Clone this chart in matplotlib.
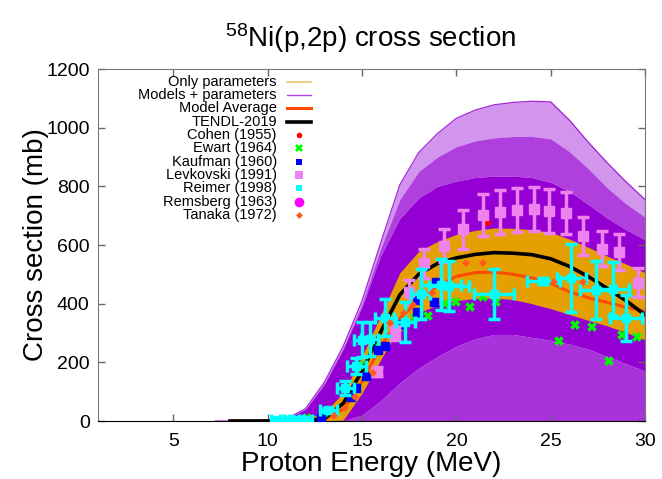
import matplotlib
matplotlib.use('Agg')
import matplotlib.pyplot as plt

plt.rcParams['font.family'] = ['Liberation Sans', 'DejaVu Sans']
plt.rcParams['mathtext.fontset'] = 'custom'
plt.rcParams['mathtext.rm'] = 'Liberation Sans'

# ---------------- data ----------------
# Models + parameters: envelope of the many TALYS runs
env_E = [7.2, 8, 9, 10, 11, 12, 13, 14, 15, 16, 17, 18, 19, 20, 21, 22, 23, 24, 25, 26, 27, 28, 29, 30]
env_upper = [0, 0, 1, 3, 8, 42, 132, 255, 410, 610, 805, 915, 980, 1032, 1060, 1078, 1086, 1090, 1088, 1025, 950, 880, 815, 755]
env_mid = [0, 0, 1, 3, 8, 41, 130, 250, 400, 590, 755, 850, 900, 935, 955, 965, 970, 970, 962, 918, 860, 795, 740, 695]
env_dense = [0, 0, 1, 3, 8, 40, 125, 245, 390, 565, 690, 760, 800, 818, 830, 835, 835, 830, 814, 782, 738, 692, 652, 618]
env_low = [0, 0, 0, 0, 0, 0, 0, 0, 20, 70, 130, 180, 220, 255, 280, 295, 295, 285, 275, 262, 245, 220, 195, 170]

# Only parameters: band
band_E = [10, 11, 12, 13, 14, 15, 16, 17, 18, 19, 20, 21, 22, 23, 24, 25, 26, 27, 28, 29, 30]
band_hi = [0, 2, 8, 30, 95, 220, 362, 505, 578, 612, 636, 650, 658, 657, 652, 643, 620, 592, 562, 535, 506]
band_lo = [0, 0, 0, 0, 3, 95, 210, 320, 370, 395, 410, 418, 419, 414, 400, 383, 363, 343, 324, 302, 277]

# Model average
avg_E = [8, 10, 12, 13, 14, 15, 16, 17, 18, 19, 20, 21, 22, 23, 24, 25, 26, 27, 28, 29, 30]
avg_xs = [0, 0, 1, 5, 40, 135, 255, 350, 410, 460, 493, 506, 508, 500, 488, 470, 440, 420, 404, 388, 373]

# TENDL-2019
tendl_E = [8, 10, 11, 12, 13, 14, 15, 16, 17, 18, 19, 20, 21, 22, 23, 24, 25, 26, 27, 28, 29, 30]
tendl_xs = [0, 0, 0.5, 2, 8, 60, 170, 305, 430, 500, 537, 556, 568, 574, 572, 567, 553, 527, 492, 452, 410, 362]

# Experimental data
cohen_E = [21.6]
cohen_xs = [678]

ewart_E = [11.1, 12.1, 13.0, 14.9, 15.95, 16.9, 17.8, 18.5, 19.4, 20.0, 20.7, 21.4, 22.1, 25.45, 26.3, 27.2, 28.1, 28.8, 29.6]
ewart_xs = [2, 10, 27, 190, 253, 318, 352, 357, 400, 404, 388, 422, 404, 273, 327, 320, 204, 294, 286]

kaufman_E = [12.8, 14.4, 14.7, 15.2, 15.85, 16.2, 17.0, 17.9, 17.9, 18.8, 18.9]
kaufman_xs = [10, 82, 113, 155, 243, 256, 330, 414, 371, 405, 475]

levk_E = [15.8, 16.75, 17.5, 18.3, 19.35, 20.35, 21.4, 22.3, 23.2, 24.1, 24.9, 25.8, 26.7, 27.7, 28.6, 29.65]
levk_xs = [168, 300, 440, 537, 598, 653, 701, 711, 721, 723, 715, 709, 630, 588, 576, 472]
levk_err = [15, 25, 40, 50, 55, 68, 72, 75, 75, 75, 75, 70, 65, 60, 60, 50]

reimer_E = [10.5, 11.0, 11.5, 12.0, 13.2, 14.1, 14.7, 15.0, 15.4, 16.2, 17.3, 18.1, 19.2, 19.6, 22.0, 24.6, 26.1, 27.4, 28.3, 29.0]
reimer_xs = [3, 4, 4, 5, 38, 113, 188, 277, 280, 352, 336, 434, 465, 460, 434, 476, 488, 447, 450, 352]
reimer_yerr = [2, 2, 2, 2, 8, 23, 28, 60, 58, 63, 68, 85, 88, 85, 85, 10, 115, 100, 93, 78]
reimer_xerr = [0.35, 0.35, 0.35, 0.35, 0.45, 0.45, 0.5, 0.45, 0.45, 0.5, 0.5, 0.5, 1.05, 1.05, 1.07, 0.88, 0.75, 0.85, 0.85, 0.85]

remsberg_E = []
remsberg_xs = []

tanaka_E = [13.5, 14.1, 14.6, 15.6, 16.5, 17.2, 17.7, 18.7, 20.5, 21.4, 25.2, 26.7]
tanaka_xs = [18, 45, 82, 162, 333, 369, 397, 437, 540, 540, 475, 475]

x_ticks = [5, 10, 15, 20, 25, 30]
y_ticks = [0, 200, 400, 600, 800, 1000, 1200]

# ---------------- styles ----------------
PURPLE = '#9400d3'
ORANGE = '#e69f00'
AVG = '#ff4a00'

fig = plt.figure(figsize=(6.62, 4.79), dpi=100)
ax = fig.add_axes([98 / 662, 58 / 479, 547 / 662, 352 / 479])

# models + parameters (purple spaghetti as shaded envelope)
ax.fill_between(env_E, env_low, env_dense, color=PURPLE, lw=0, zorder=1)
ax.fill_between(env_E, 0, env_low, color=PURPLE, alpha=0.8, lw=0, zorder=1)
ax.fill_between(env_E, env_dense, env_mid, color=PURPLE, alpha=0.75, lw=0, zorder=1)
ax.fill_between(env_E, env_mid, env_upper, color=PURPLE, alpha=0.42, lw=0, zorder=1)
ax.plot(env_E, env_upper, color=PURPLE, lw=0.9, alpha=0.85, zorder=1)

# only parameters band
ax.fill_between(band_E, band_lo, band_hi, color=ORANGE, lw=0, zorder=2)

ax.plot(avg_E, avg_xs, color=AVG, lw=2.2, zorder=3)
ax.plot(tendl_E, tendl_xs, color='black', lw=2.6, zorder=4)

# experimental
ax.plot(cohen_E, cohen_xs, 'o', color='red', ms=4, zorder=5)
ax.plot(ewart_E, ewart_xs, 'X', color='#00ff00', ms=6.5, mew=0, zorder=5)
ax.plot(kaufman_E, kaufman_xs, 's', color='blue', ms=5.5, zorder=5)
ax.errorbar(levk_E, levk_xs, yerr=levk_err, fmt='s', color='#ee82ee', ms=7,
            elinewidth=2.5, capsize=4, capthick=2.5, zorder=6)
ax.errorbar(reimer_E, reimer_xs, yerr=reimer_yerr, xerr=reimer_xerr, fmt='s', color='cyan',
            ms=6, elinewidth=2.5, capsize=4.5, capthick=2.5, zorder=7)
ax.plot(remsberg_E, remsberg_xs, 'o', color='magenta', ms=7, zorder=7)
ax.plot(tanaka_E, tanaka_xs, 'D', color='#ff5a1a', ms=3.8, mew=0, zorder=8)

ax.set_xlim(1, 30)
ax.set_ylim(0, 1200)
ax.set_xticks(x_ticks)
ax.set_yticks(y_ticks)
ax.tick_params(axis='both', direction='in', length=5, width=1, top=True, right=True,
               labelsize=14, colors='#666666', labelcolor='black')
ax.tick_params(axis='x', pad=9)
ax.tick_params(axis='y', pad=6)
for side in ['left', 'right', 'top']:
    ax.spines[side].set_color('#777777')
ax.spines['bottom'].set_color('black')

ax.set_xlabel('Proton Energy (MeV)', fontsize=20)
ax.set_ylabel('Cross section (mb)', fontsize=20)
ax.xaxis.set_label_coords(0.5, -0.085)
ax.yaxis.set_label_coords(-0.09, 0.5)

fig.text(371 / 662, 1 - 38 / 479, r'$\mathregular{^{58}}$Ni(p,2p) cross section',
         fontsize=20, ha='center', va='center')

# legend (gnuplot style: right-aligned text, sample to the right)
labels = ['Only parameters', 'Models + parameters', 'Model Average', 'TENDL-2019',
          'Cohen (1955)', 'Ewart (1964)', 'Kaufman (1960)', 'Levkovski (1991)',
          'Reimer (1998)', 'Remsberg (1963)', 'Tanaka (1972)']
y0 = 0.964
dy = 0.0379
tx = 0.327
sx0, sx1, sxm = 0.345, 0.39, 0.367
samples = [
    dict(kind='line', color='#f0c070', lw=1.2),
    dict(kind='line', color='#b040f0', lw=1.0),
    dict(kind='line', color=AVG, lw=2.2),
    dict(kind='line', color='black', lw=2.6),
    dict(kind='mark', marker='o', color='red', ms=4),
    dict(kind='mark', marker='X', color='#00ff00', ms=6),
    dict(kind='mark', marker='s', color='blue', ms=5),
    dict(kind='mark', marker='s', color='#ee82ee', ms=6),
    dict(kind='mark', marker='s', color='cyan', ms=5),
    dict(kind='mark', marker='o', color='magenta', ms=7),
    dict(kind='mark', marker='D', color='#ff5a1a', ms=3.5),
]
for i, (lab, s) in enumerate(zip(labels, samples)):
    y = y0 - i * dy
    ax.text(tx, y, lab, transform=ax.transAxes, ha='right', va='center', fontsize=10.5, zorder=10)
    if s['kind'] == 'line':
        ax.plot([sx0, sx1], [y, y], transform=ax.transAxes, color=s['color'], lw=s['lw'],
                clip_on=False, zorder=10)
    else:
        ax.plot([sxm], [y], transform=ax.transAxes, marker=s['marker'], color=s['color'],
                ms=s['ms'], mew=0, ls='none', clip_on=False, zorder=10)

fig.savefig('out.png', dpi=100)
